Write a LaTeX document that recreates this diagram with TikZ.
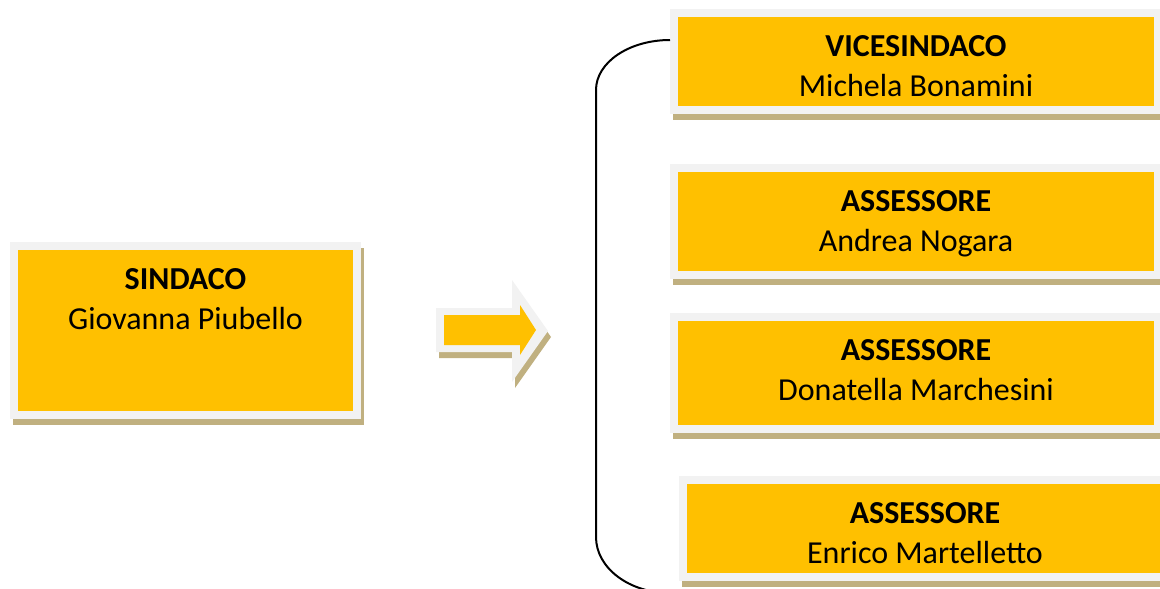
\documentclass[tikz,border=0pt]{standalone}
\usepackage{fontspec}
\setmainfont{Carlito}
\usetikzlibrary{calc}
\definecolor{boxfill}{HTML}{FFC000}
\definecolor{boxrim}{HTML}{F2F2F2}
\definecolor{boxshade}{RGB}{192,176,128}
\newcommand\govbox[7]{%
  \fill[shade] (#2-5,#3-2) rectangle (#4+11,#5+14);
  \fill[rim] (#2-8,#3-8) rectangle (#4+8,#5+8);
  \node[core, minimum width=#4-#2, minimum height=#5-#3] (#1) at ({(#2+#4)/2},{(#3+#5)/2}) {};
  \node[titletext] (#1-t) at ($(#1.north)+(0,39)$) {#6};
  \node[nametext] (#1-n) at ($(#1.north)+(0,79)$) {#7};
}
\begin{document}
\begin{tikzpicture}[x=1pt,y=-1pt,
  rim/.style={fill=boxrim, draw=none},
  shade/.style={fill=boxshade, draw=none},
  core/.style={fill=boxfill, draw=none, inner sep=0pt, outer sep=0pt},
  titletext/.style={anchor=base, inner sep=0pt, font=\fontsize{32}{40}\selectfont\bfseries},
  nametext/.style={anchor=base, inner sep=0pt, font=\fontsize{32}{40}\selectfont},
  bracket/.style={draw=black, line width=2pt}]
\useasboundingbox (0,0) rectangle (1160,589);
\clip (0,0) rectangle (1160,589);
% boxes
\govbox{sindaco}{18}{250}{353}{411}{SINDACO}{Giovanna Piubello}
\govbox{vice}{678}{17}{1154}{106}{VICESINDACO}{Michela Bonamini}
\govbox{ass1}{678}{172}{1154}{271}{ASSESSORE}{Andrea Nogara}
\govbox{ass2}{678}{321}{1154}{425}{ASSESSORE}{Donatella Marchesini}
\govbox{ass3}{687}{484}{1163}{573}{ASSESSORE}{Enrico Martelletto}
% block arrow
\fill[shade] (439,314) -- (515,314) -- (515,286) -- (551,337) -- (515,388) -- (515,358) -- (439,358) -- cycle;
\fill[rim] (436,308) -- (512,308) -- (512,280) -- (548,331) -- (512,382) -- (512,352) -- (436,352) -- cycle;
\fill[boxfill] (444,315) -- (520,315) -- (520,305) -- (536,330) -- (520,355) -- (520,345) -- (444,345) -- cycle;
% bracket
\coordinate (bt) at (670,40);
\draw[bracket] (bt) arc[start angle=270, end angle=180, x radius=74, y radius=50]
  -- (596,537) arc[start angle=180, end angle=90, x radius=74, y radius=56];
\end{tikzpicture}
\end{document}
